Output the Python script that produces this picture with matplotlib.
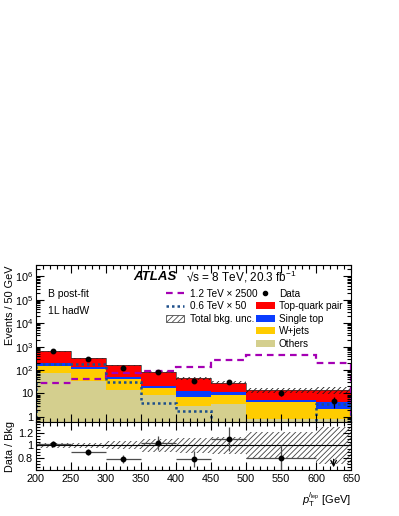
import numpy as np
import matplotlib
matplotlib.use('Agg')
import matplotlib.pyplot as plt
from matplotlib.patches import Patch
from matplotlib.lines import Line2D
from matplotlib.ticker import MultipleLocator, FixedLocator, FixedFormatter, LogLocator, NullFormatter

plt.rcParams['font.family'] = ['Liberation Sans', 'DejaVu Sans']
plt.rcParams['mathtext.fontset'] = 'custom'
plt.rcParams['mathtext.rm'] = 'Liberation Sans'
plt.rcParams['mathtext.it'] = 'Liberation Sans:italic'
plt.rcParams['hatch.linewidth'] = 0.6

# bins in pT [GeV]
edges = np.array([200, 250, 300, 350, 400, 450, 500, 600, 650])

# stacked backgrounds (events / 50 GeV)
others = np.array([72, 35, 14, 8.4, 2.9, 3.6, 0.8, 0.8])
wjets = np.array([76, 72, 26, 8.6, 4.4, 5.0, 3.55, 1.3])
single_top = np.array([45, 31, 12, 4.0, 5.1, 2.6, 0.95, 2.4])
ttbar = np.array([447, 186, 108, 59, 32.6, 17.8, 8.2, 9.5])

# relative total bkg uncertainty
bkg_unc = np.array([0.04, 0.04, 0.065, 0.1, 0.125, 0.14, 0.22, 0.3])

# data
data = np.array([660, 290, 125, 83, 35, 32, 10.8, 4.8])
data_err = np.array([26, 17, 11, 9, 6, 5.7, 2.8, 2.5])

# signals
sig_12 = np.array([27, 43, 72, 88, 130, 275, 420, 205])   # 1.2 TeV x 2500
sig_06 = np.array([190, 180, 31, 4.1, 1.75, 0.3, 0.3, 3.5])  # 0.6 TeV x 50

c_ttbar = '#ff0000'
c_st = '#0a3cff'
c_wj = '#ffcc00'
c_oth = '#d4cf8e'
c_s12 = '#a400b4'
c_s06 = '#1d4f8a'

centers = 0.5 * (edges[1:] + edges[:-1])
halfw = 0.5 * np.diff(edges)
total = others + wjets + single_top + ttbar

fig = plt.figure(figsize=(3.99, 5.16), dpi=100)
ax = fig.add_axes([0.090, 0.182, 0.790, 0.304])
rax = fig.add_axes([0.090, 0.089, 0.790, 0.093], sharex=ax)

# stack
base = np.full(len(others), 1e-3)
for vals, col in [(others, c_oth), (wjets, c_wj), (single_top, c_st), (ttbar, c_ttbar)]:
    top = base + vals
    ax.stairs(top, edges, baseline=base, fill=True, color=col, lw=0)
    base = top

# unc band
ax.bar(centers, 2 * bkg_unc * total, bottom=total * (1 - bkg_unc), width=2 * halfw,
       fill=False, hatch='//////', edgecolor='0.1', lw=0)
ax.stairs(total, edges, color='0.2', lw=0.5)

# signals
ax.stairs(sig_12, edges, color=c_s12, lw=1.6, linestyle=(0, (3, 2.2)))
ax.stairs(sig_06, edges, color=c_s06, lw=1.8, linestyle=(0, (1, 1.2)))

# data
ax.errorbar(centers, data, yerr=data_err, fmt='o', color='k', ms=3.2, lw=0.9, capsize=0)

ax.set_yscale('log')
ax.set_ylim(0.6, 3e6)
ax.set_xlim(200, 650)
ax.yaxis.set_major_locator(FixedLocator([1, 10, 1e2, 1e3, 1e4, 1e5, 1e6]))
ax.yaxis.set_major_formatter(FixedFormatter(['1', '10', '$10^2$', '$10^3$', '$10^4$', '$10^5$', '$10^6$']))
ax.yaxis.set_minor_locator(LogLocator(base=10, subs=np.arange(2, 10), numticks=20))
ax.yaxis.set_minor_formatter(NullFormatter())
ax.set_ylabel('Events / 50 GeV', loc='top', fontsize=7.8)
ax.yaxis.set_label_coords(-0.065, 1.0)
ax.tick_params(labelbottom=False)

for a in (ax, rax):
    a.tick_params(which='both', direction='in', top=True, right=True, labelsize=7.8, width=0.8)
    a.tick_params(which='major', length=6, pad=2)
    a.tick_params(which='minor', length=3)
    for s in a.spines.values():
        s.set_linewidth(0.8)
rax.xaxis.set_major_locator(MultipleLocator(50))
rax.xaxis.set_minor_locator(MultipleLocator(10))
rax.tick_params(axis='x', pad=3)

ax.text(0.308, 0.924, 'ATLAS', transform=ax.transAxes, fontsize=9.5, fontweight='bold',
        fontstyle='italic', va='center')
ax.text(0.476, 0.924, '\u221as = 8 TeV, 20.3 fb$^{-1}$', transform=ax.transAxes,
        fontsize=8.5, va='center')
ax.text(0.038, 0.815, 'B post-fit', transform=ax.transAxes, fontsize=7.5, va='center')
ax.text(0.038, 0.707, '1L hadW', transform=ax.transAxes, fontsize=7.5, va='center')

h_left = [Line2D([], [], color=c_s12, lw=1.6, linestyle=(0, (3, 2.2))),
          Line2D([], [], color=c_s06, lw=1.8, linestyle=(0, (1, 1.2))),
          Patch(facecolor='white', edgecolor='0.3', hatch='//////', lw=0.6)]
l_left = ['1.2 TeV \u00d7 2500', '0.6 TeV \u00d7 50', 'Total bkg. unc.']
leg1 = ax.legend(h_left, l_left, loc='upper left', bbox_to_anchor=(0.413, 0.85), frameon=False,
                 fontsize=7.2, borderpad=0, borderaxespad=0, handlelength=1.75,
                 handletextpad=0.6, labelspacing=0.25)
ax.add_artist(leg1)

h_right = [Line2D([], [], color='k', marker='o', ms=3, lw=0),
           Patch(facecolor=c_ttbar, edgecolor='none'),
           Patch(facecolor=c_st, edgecolor='none'),
           Patch(facecolor=c_wj, edgecolor='none'),
           Patch(facecolor=c_oth, edgecolor='none')]
l_right = ['Data', 'Top-quark pair', 'Single top', 'W+jets', 'Others']
ax.legend(h_right, l_right, loc='upper left', bbox_to_anchor=(0.698, 0.85), frameon=False,
          fontsize=7.2, borderpad=0, borderaxespad=0, handlelength=1.9,
          handletextpad=0.4, labelspacing=0.25)

# ratio panel
ratio = data / total
ratio_err = data_err / total
rax.bar(centers, 2 * bkg_unc, bottom=1 - bkg_unc, width=2 * halfw,
        fill=False, hatch='//////', edgecolor='0.25', lw=0)
rax.axhline(1, color='k', lw=0.8)
ok = ratio > 0.6
rax.errorbar(centers[ok], ratio[ok], yerr=ratio_err[ok], xerr=halfw[ok], fmt='o', color='k',
             ecolor='0.3', ms=3.2, lw=0.9, capsize=0)
for xc in centers[~ok]:
    rax.annotate('', xy=(xc, 0.6), xytext=(xc, 0.82),
                 arrowprops=dict(arrowstyle='->', color='k', lw=0.9))
rax.set_ylim(0.6, 1.38)
rax.yaxis.set_major_locator(FixedLocator([0.8, 1.0, 1.2]))
rax.yaxis.set_major_formatter(FixedFormatter(['0.8', '1', '1.2']))
rax.yaxis.set_minor_locator(MultipleLocator(0.05))
rax.set_ylabel('Data / Bkg', fontsize=7.8)
rax.yaxis.set_label_coords(-0.065, 0.5)
rax.set_xlabel(r'$p_{\mathrm{T}}^{l_{\mathrm{lep}}}$ [GeV]', loc='right', fontsize=8)

fig.savefig('out.png', dpi=100)
